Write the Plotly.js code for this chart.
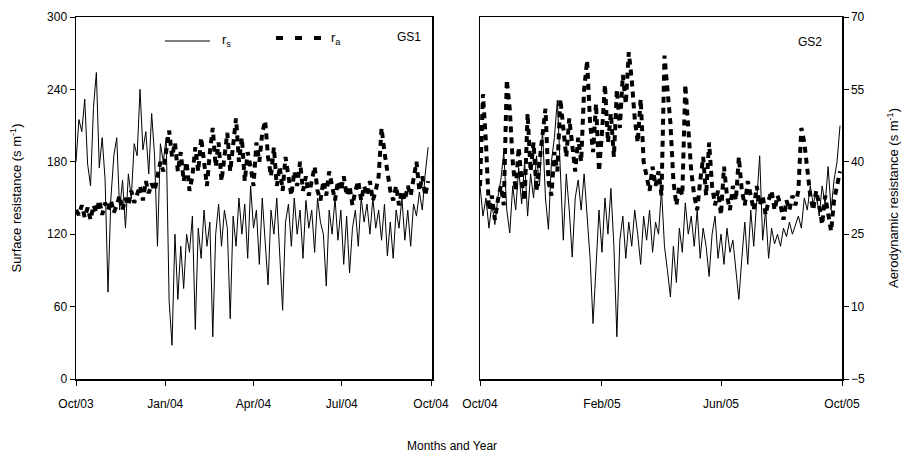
<!DOCTYPE html>
<html>
<head>
<meta charset="utf-8">
<script src="https://cdn.plot.ly/plotly-3.0.1.min.js"></script>
<style>html,body{margin:0;padding:0;background:#fff;}#chart{width:904px;height:463px;}</style>
</head>
<body>
<div id="chart"></div>
<script>
// ---------- DATA (one every 3 days) ----------
const gs1StartDate = '2003-10-01';
const gs2StartDate = '2004-10-01';
const stepDays = 3;

// GS1 surface resistance rs (s m-1), Oct 2003 - Sep 2004
const gs1Rs = [180,215,205,232,178,160,225,254,175,200,165,72,150,185,200,140,165,125,170,150,
  195,185,240,190,205,170,220,185,110,195,180,200,65,28,120,66,110,75,120,105,
  135,41,125,100,140,110,130,35,120,145,110,140,125,50,135,110,150,120,145,100,
  160,125,140,95,150,115,78,140,120,150,100,57,130,145,110,150,120,140,100,148,
  125,140,105,150,130,120,77,140,120,150,115,140,95,135,88,125,140,110,150,130,
  145,120,150,125,140,115,145,102,130,100,140,125,150,115,140,110,145,135,155,140,
  170,192];
// GS1 aerodynamic resistance ra (s m-1)
const gs1Ra = [30,29,31,28.5,30.5,28,31,29.5,32,29,31.5,30,32,29.5,31,33,30,32.5,31,34,
  31.5,33,35,32,36,33.5,35.5,34,37,40,38,43,46.5,41,44,38,42,36,40,34,
  37,43,38,45,40,35,42,47,39,44,36,41,46,38,43,49,40,45,36,42,
  39,35,44,40,46,48.5,41,37,43,35,39,34,41,37,33,38,35,40,34,37,
  33,36,39,34,32,36,33,38,35,32,36,34,37,33,35,31,34,36,32,35,
  33,36,32,34,37,47,42,38,34,32,35,31,34,32,35,33,36,40,34,37,
  33,36];
// GS2 surface resistance rs (s m-1), Oct 2004 - Sep 2005
const gs2Rs = [160,135,150,125,145,128,150,165,188,140,121,160,140,175,145,180,135,170,150,185,
  160,207,150,124,180,200,231,170,115,170,140,101,150,165,140,170,135,100,46,90,
  140,105,150,120,158,110,35,115,135,100,130,110,140,120,95,135,115,140,105,130,
  120,157,110,90,68,110,80,125,105,146,120,135,110,140,100,125,110,85,120,135,
  100,120,95,125,105,115,90,66,100,130,95,140,110,150,185,115,140,100,125,112,
  120,110,125,118,130,120,128,135,125,150,140,160,145,155,135,160,145,176,140,165,
  180,210];
// GS2 aerodynamic resistance ra (s m-1)
const gs2Ra = [35,54,44,30,33,28,32,35,31,57,51,40,34,43,36,32,50,38,44,34,
  40,46,51,36,33,42,38,53,47,41,49,43,38,45,40,55,61,48,42,52,
  38,46,56,44,50,41,55,47,58,52,62.7,57,49,44,53,40,37,34,39,35,
  38,33,62,55,48,36,31,35,33,56,48,38,33,30,36,41,33,44,35,31,
  34,29,39,33,30,35,32,41,34,31,36,33,30,35,31,33,29,32,34,30,
  33,31,28,32,30,33,31,34,47,44,38,33,30,34,31,27,33,29,25.6,32,
  35,38];

// axis ticks
const gs1TickDates = ['2003-10-01','2004-01-01','2004-04-01','2004-07-01','2004-10-01'];
const gs1TickText = ['Oct/03','Jan/04','Apr/04','Jul/04','Oct/04'];
const gs2TickDates = ['2004-10-01','2005-02-01','2005-06-01','2005-10-01'];
const gs2TickText = ['Oct/04','Feb/05','Jun/05','Oct/05'];
const rsTicks = [0,60,120,180,240,300];
const raTicks = [-5,10,25,40,55,70];

// ---------- build dates ----------
function dateSeries(start, n, step) {
  const t0 = Date.parse(start + 'T00:00:00Z');
  const out = [];
  for (let i = 0; i < n; i++) out.push(new Date(t0 + i * step * 86400000).toISOString().slice(0, 10));
  return out;
}
const gs1Dates = dateSeries(gs1StartDate, gs1Rs.length, stepDays);
const gs2Dates = dateSeries(gs2StartDate, gs2Rs.length, stepDays);

const FONT = 'Liberation Sans, Arial, sans-serif';
const rsLine = {color: '#000', width: 1};
const raLine = {color: '#000', width: 4, dash: '6px,5px'};

const traces = [
  {x: gs1Dates, y: gs1Rs, xaxis: 'x', yaxis: 'y', type: 'scatter', mode: 'lines', line: rsLine, name: 'rs GS1', showlegend: false},
  {x: gs1Dates, y: gs1Ra, xaxis: 'x', yaxis: 'y2', type: 'scatter', mode: 'lines', line: raLine, name: 'ra GS1', showlegend: false},
  {x: gs2Dates, y: gs2Rs, xaxis: 'x2', yaxis: 'y3', type: 'scatter', mode: 'lines', line: rsLine, name: 'rs GS2', showlegend: false},
  {x: gs2Dates, y: gs2Ra, xaxis: 'x2', yaxis: 'y4', type: 'scatter', mode: 'lines', line: raLine, name: 'ra GS2', showlegend: false}
];

const L = 76, R = 842, T = 17, B = 379;
const W = R - L, H = B - T;
const px = v => (v - L) / W;
const py = v => (B - v) / H;

const axisCommon = {showgrid: false, zeroline: false, showline: true, linecolor: '#000', linewidth: 1.5,
  ticks: 'outside', ticklen: 5, tickwidth: 1, tickcolor: '#000', tickfont: {family: FONT, size: 12, color: '#000'}};

const layout = {
  width: 904, height: 463,
  margin: {l: L, r: 904 - R, t: T, b: 463 - B},
  paper_bgcolor: '#fff', plot_bgcolor: '#fff',
  showlegend: false,
  font: {family: FONT, color: '#000'},
  xaxis: Object.assign({}, axisCommon, {domain: [0, px(432)], type: 'date', range: ['2003-10-01', '2004-10-02'],
    tickmode: 'array', tickvals: gs1TickDates, ticktext: gs1TickText, mirror: true, anchor: 'y', ticklabelstandoff: 8}),
  yaxis: Object.assign({}, axisCommon, {range: [0, 300], tickmode: 'array', tickvals: rsTicks, mirror: true, anchor: 'x',
    title: {text: 'Surface resistance (s m<sup>-1</sup>)', font: {family: FONT, size: 13, color: '#000'}, standoff: 22}}),
  yaxis2: {overlaying: 'y', anchor: 'x', range: [-5, 70], visible: false},
  xaxis2: Object.assign({}, axisCommon, {domain: [px(480), 1], type: 'date', range: ['2004-10-01', '2005-10-01'],
    tickmode: 'array', tickvals: gs2TickDates, ticktext: gs2TickText, mirror: true, anchor: 'y3', ticklabelstandoff: 8}),
  yaxis3: {anchor: 'x2', range: [0, 300], visible: false},
  yaxis4: Object.assign({}, axisCommon, {overlaying: 'y3', anchor: 'x2', side: 'right', range: [-5, 70],
    tickmode: 'array', tickvals: raTicks, mirror: true,
    title: {text: 'Aerodynamic resistance (s m<sup>-1</sup>)', font: {family: FONT, size: 13, color: '#000'}, standoff: 25}}),
  shapes: [
    {type: 'line', xref: 'paper', yref: 'paper', x0: px(165), x1: px(210), y0: py(41), y1: py(41), line: {color: '#000', width: 1}},
    {type: 'line', xref: 'paper', yref: 'paper', x0: px(276), x1: px(322), y0: py(38), y1: py(38), line: {color: '#000', width: 4, dash: '7px,12px'}}
  ],
  annotations: [
    {xref: 'paper', yref: 'paper', x: px(220), y: py(40), xanchor: 'left', yanchor: 'middle', showarrow: false,
      text: 'r<sub>s</sub>', font: {family: FONT, size: 13, color: '#000'}},
    {xref: 'paper', yref: 'paper', x: px(329), y: py(38), xanchor: 'left', yanchor: 'middle', showarrow: false,
      text: 'r<sub>a</sub>', font: {family: FONT, size: 13, color: '#000'}},
    {xref: 'paper', yref: 'paper', x: px(423), y: py(37), xanchor: 'right', yanchor: 'middle', showarrow: false,
      text: 'GS1', font: {family: FONT, size: 12, color: '#000'}},
    {xref: 'paper', yref: 'paper', x: px(824), y: py(42), xanchor: 'right', yanchor: 'middle', showarrow: false,
      text: 'GS2', font: {family: FONT, size: 12, color: '#000'}},
    {xref: 'paper', yref: 'paper', x: px(452), y: py(446), xanchor: 'center', yanchor: 'middle', showarrow: false,
      text: 'Months and Year', font: {family: FONT, size: 12, color: '#000'}}
  ]
};

Plotly.newPlot('chart', traces, layout, {displayModeBar: false, staticPlot: true});
</script>
</body>
</html>
